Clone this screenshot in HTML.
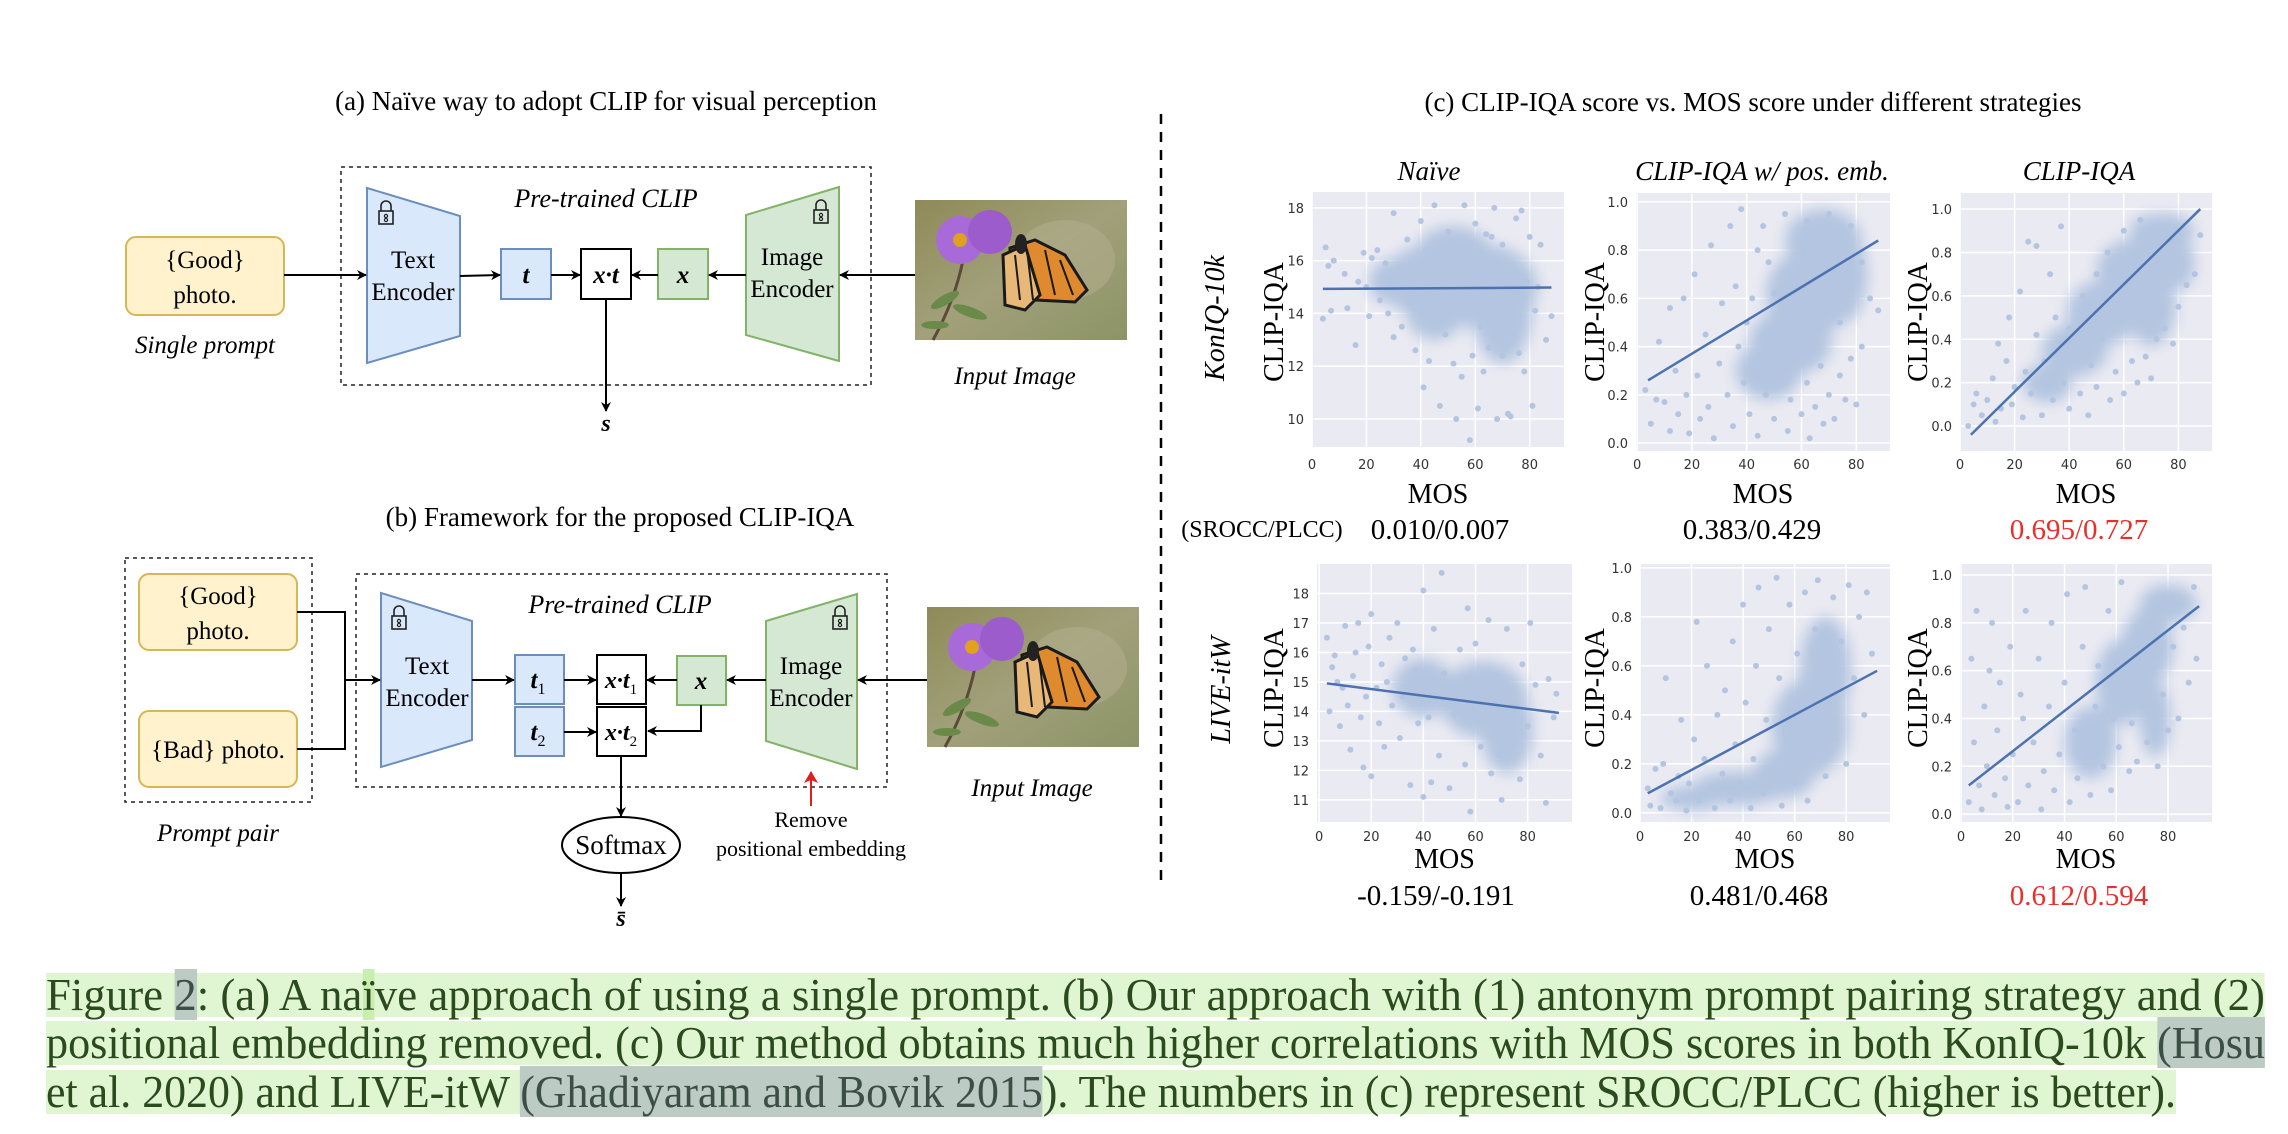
<!DOCTYPE html>
<html><head><meta charset="utf-8">
<style>
html,body{margin:0;padding:0;background:#fff;}
#root{position:relative;width:2288px;height:1134px;overflow:hidden;font-family:"Liberation Serif",serif;}
svg text{font-family:"Liberation Serif",serif;}
.cap{position:absolute;left:46px;height:44px;line-height:44px;background:#e0f6d2;color:#2b4a1e;font-size:46px;white-space:nowrap;font-family:"Liberation Serif",serif;transform-origin:0 0;}
.cite{background:#bccbc3;color:#3c4f44;}
.tk{font-family:"DejaVu Sans",sans-serif;font-size:13px;fill:#333;}
</style></head>
<body>
<div id="root">
<svg id="svg" width="2288" height="1134" viewBox="0 0 2288 1134" xmlns="http://www.w3.org/2000/svg">
<defs>
<marker id="ah" markerWidth="10" markerHeight="10" refX="9" refY="5" orient="auto" markerUnits="userSpaceOnUse"><path d="M0,0 L10,5 L0,10 L3,5 z" fill="#000"/></marker>
<marker id="ahr" markerWidth="12" markerHeight="14" refX="11" refY="7" orient="auto" markerUnits="userSpaceOnUse"><path d="M0,0 L12,7 L0,14 L3,7 z" fill="#e02020"/></marker>
<filter id="soft" x="-50%" y="-50%" width="200%" height="200%"><feGaussianBlur stdDeviation="7"/></filter>
<linearGradient id="bg1" x1="0" y1="0" x2="1" y2="1"><stop offset="0" stop-color="#8e8a58"/><stop offset="0.5" stop-color="#a2a07a"/><stop offset="1" stop-color="#8c9466"/></linearGradient>
<g id="butterfly">
<rect x="0" y="0" width="212" height="140" fill="url(#bg1)"/>
<ellipse cx="150" cy="60" rx="50" ry="40" fill="#b0ad8c" opacity="0.6"/>
<path d="M48,60 Q40,100 18,140" stroke="#5a4a3a" stroke-width="3" fill="none"/>
<ellipse cx="30" cy="100" rx="16" ry="5" fill="#6a8a4a" transform="rotate(-30 30 100)"/>
<ellipse cx="55" cy="112" rx="18" ry="5" fill="#6a8a4a" transform="rotate(20 55 112)"/>
<ellipse cx="20" cy="125" rx="14" ry="4" fill="#6a8a4a"/>
<circle cx="45" cy="40" r="24" fill="#a86ad8"/>
<circle cx="75" cy="32" r="22" fill="#9c5ccc"/>
<circle cx="45" cy="40" r="7" fill="#e0a020"/>
<path d="M95,48 L120,40 L150,55 L172,90 L160,102 L120,100 L95,100 Z" fill="#e08a30" stroke="#1a1a1a" stroke-width="3"/>
<path d="M88,55 L110,45 L125,95 L110,110 L90,105 Z" fill="#e8b878" stroke="#1a1a1a" stroke-width="3"/>
<path d="M100,55 L105,100 M112,50 L118,100 M130,50 L140,95 M145,60 L158,95" stroke="#1a1a1a" stroke-width="2"/>
<ellipse cx="106" cy="44" rx="6" ry="10" fill="#222"/>
</g>
<g id="lock"><path d="M-5,-2 v-5 a5,5 0 0 1 10,0 v5" stroke="#222" stroke-width="1.6" fill="none"/><rect x="-7" y="-2" width="14" height="13" fill="none" stroke="#222" stroke-width="1.6"/><circle cx="0" cy="3" r="1.6" fill="none" stroke="#222" stroke-width="1.2"/><circle cx="0" cy="7" r="1.6" fill="none" stroke="#222" stroke-width="1.2"/></g>
</defs>

<!-- ===== Panel (a) ===== -->
<g>
<text x="606" y="110" font-size="27" text-anchor="middle">(a) Naïve way to adopt CLIP for visual perception</text>
<rect x="341" y="167" width="530" height="218" fill="none" stroke="#222" stroke-width="1.5" stroke-dasharray="4,4"/>
<text x="606" y="207" font-size="26" font-style="italic" text-anchor="middle">Pre-trained CLIP</text>
<rect x="126" y="237" width="158" height="78" rx="10" fill="#fff2cc" stroke="#d6b656" stroke-width="2"/>
<text x="205" y="268" font-size="25" text-anchor="middle">{Good}</text>
<text x="205" y="303" font-size="25" text-anchor="middle">photo.</text>
<text x="205" y="353" font-size="25" font-style="italic" text-anchor="middle">Single prompt</text>
<polygon points="367,188 460,216 460,336 367,363" fill="#dae8fc" stroke="#6c8ebf" stroke-width="2"/>
<use href="#lock" x="386" y="213"/>
<text x="413" y="268" font-size="25" text-anchor="middle">Text</text>
<text x="413" y="300" font-size="25" text-anchor="middle">Encoder</text>
<rect x="501" y="249" width="50" height="50" fill="#dae8fc" stroke="#6c8ebf" stroke-width="2"/>
<text x="526" y="283" font-size="25" font-weight="bold" font-style="italic" text-anchor="middle">t</text>
<rect x="581" y="249" width="50" height="50" fill="#fff" stroke="#000" stroke-width="2"/>
<text x="606" y="283" font-size="25" font-weight="bold" font-style="italic" text-anchor="middle">x·t</text>
<rect x="658" y="249" width="50" height="50" fill="#d5e8d4" stroke="#82b366" stroke-width="2"/>
<text x="683" y="283" font-size="25" font-weight="bold" font-style="italic" text-anchor="middle">x</text>
<polygon points="746,215 839,187 839,361 746,335" fill="#d5e8d4" stroke="#82b366" stroke-width="2"/>
<use href="#lock" x="821" y="212"/>
<text x="792" y="265" font-size="25" text-anchor="middle">Image</text>
<text x="792" y="297" font-size="25" text-anchor="middle">Encoder</text>
<use href="#butterfly" x="915" y="200"/>
<text x="1015" y="384" font-size="25" font-style="italic" text-anchor="middle">Input Image</text>
<g stroke="#000" stroke-width="2" fill="none">
<line x1="284" y1="275" x2="366" y2="275" marker-end="url(#ah)"/>
<line x1="460" y1="276" x2="500" y2="275" marker-end="url(#ah)"/>
<line x1="551" y1="275" x2="580" y2="275" marker-end="url(#ah)"/>
<line x1="658" y1="275" x2="632" y2="275" marker-end="url(#ah)"/>
<line x1="746" y1="275" x2="709" y2="275" marker-end="url(#ah)"/>
<line x1="915" y1="275" x2="840" y2="275" marker-end="url(#ah)"/>
<line x1="606" y1="299" x2="606" y2="411" marker-end="url(#ah)"/>
</g>
<text x="606" y="431" font-size="24" font-weight="bold" font-style="italic" text-anchor="middle">s</text>
</g>

<!-- ===== Panel (b) ===== -->
<g>
<text x="620" y="526" font-size="27" text-anchor="middle">(b) Framework for the proposed CLIP-IQA</text>
<rect x="125" y="558" width="187" height="244" fill="none" stroke="#222" stroke-width="1.5" stroke-dasharray="4,4"/>
<rect x="139" y="574" width="158" height="76" rx="10" fill="#fff2cc" stroke="#d6b656" stroke-width="2"/>
<text x="218" y="604" font-size="25" text-anchor="middle">{Good}</text>
<text x="218" y="639" font-size="25" text-anchor="middle">photo.</text>
<rect x="139" y="711" width="158" height="76" rx="10" fill="#fff2cc" stroke="#d6b656" stroke-width="2"/>
<text x="218" y="758" font-size="25" text-anchor="middle">{Bad} photo.</text>
<text x="218" y="841" font-size="25" font-style="italic" text-anchor="middle">Prompt pair</text>
<rect x="356" y="574" width="531" height="213" fill="none" stroke="#222" stroke-width="1.5" stroke-dasharray="4,4"/>
<text x="620" y="613" font-size="26" font-style="italic" text-anchor="middle">Pre-trained CLIP</text>
<polygon points="381,593 472,621 472,740 381,767" fill="#dae8fc" stroke="#6c8ebf" stroke-width="2"/>
<use href="#lock" x="399" y="618"/>
<text x="427" y="674" font-size="25" text-anchor="middle">Text</text>
<text x="427" y="706" font-size="25" text-anchor="middle">Encoder</text>
<rect x="515" y="655" width="49" height="49" fill="#dae8fc" stroke="#6c8ebf" stroke-width="2"/>
<text x="538" y="688" font-size="25" font-weight="bold" font-style="italic" text-anchor="middle">t<tspan font-size="16" font-weight="normal" font-style="normal" dy="6">1</tspan></text>
<rect x="515" y="707" width="49" height="49" fill="#dae8fc" stroke="#6c8ebf" stroke-width="2"/>
<text x="538" y="740" font-size="25" font-weight="bold" font-style="italic" text-anchor="middle">t<tspan font-size="16" font-weight="normal" font-style="normal" dy="6">2</tspan></text>
<rect x="597" y="655" width="49" height="49" fill="#fff" stroke="#000" stroke-width="2"/>
<text x="621" y="688" font-size="24" font-weight="bold" font-style="italic" text-anchor="middle">x·t<tspan font-size="15" font-weight="normal" font-style="normal" dy="6">1</tspan></text>
<rect x="597" y="707" width="49" height="49" fill="#fff" stroke="#000" stroke-width="2"/>
<text x="621" y="740" font-size="24" font-weight="bold" font-style="italic" text-anchor="middle">x·t<tspan font-size="15" font-weight="normal" font-style="normal" dy="6">2</tspan></text>
<rect x="677" y="656" width="49" height="49" fill="#d5e8d4" stroke="#82b366" stroke-width="2"/>
<text x="701" y="689" font-size="25" font-weight="bold" font-style="italic" text-anchor="middle">x</text>
<polygon points="766,621 857,594 857,769 766,741" fill="#d5e8d4" stroke="#82b366" stroke-width="2"/>
<use href="#lock" x="840" y="618"/>
<text x="811" y="674" font-size="25" text-anchor="middle">Image</text>
<text x="811" y="706" font-size="25" text-anchor="middle">Encoder</text>
<use href="#butterfly" x="927" y="607"/>
<text x="1032" y="796" font-size="25" font-style="italic" text-anchor="middle">Input Image</text>
<g stroke="#000" stroke-width="2" fill="none">
<polyline points="297,612 345,612 345,749 297,749"/>
<line x1="345" y1="680" x2="380" y2="680" marker-end="url(#ah)"/>
<line x1="472" y1="680" x2="514" y2="680" marker-end="url(#ah)"/>
<line x1="564" y1="680" x2="596" y2="680" marker-end="url(#ah)"/>
<line x1="564" y1="732" x2="596" y2="732" marker-end="url(#ah)"/>
<line x1="677" y1="680" x2="647" y2="680" marker-end="url(#ah)"/>
<polyline points="701,705 701,731 648,731" marker-end="url(#ah)"/>
<line x1="766" y1="680" x2="727" y2="680" marker-end="url(#ah)"/>
<line x1="927" y1="680" x2="858" y2="680" marker-end="url(#ah)"/>
<line x1="621" y1="756" x2="621" y2="816" marker-end="url(#ah)"/>
<line x1="621" y1="873" x2="621" y2="906" marker-end="url(#ah)"/>
</g>
<ellipse cx="621" cy="845" rx="59" ry="28" fill="#fff" stroke="#000" stroke-width="2"/>
<text x="621" y="854" font-size="27" text-anchor="middle">Softmax</text>
<text x="621" y="926" font-size="24" font-weight="bold" font-style="italic" text-anchor="middle">s̄</text>
<line x1="811" y1="806" x2="811" y2="772" stroke="#e02020" stroke-width="2" marker-end="url(#ahr)"/>
<text x="811" y="827" font-size="22" text-anchor="middle">Remove</text>
<text x="811" y="856" font-size="22" text-anchor="middle">positional embedding</text>
</g>

<line x1="1161" y1="114" x2="1161" y2="886" stroke="#000" stroke-width="2.5" stroke-dasharray="10,8"/>

<!-- ===== Panel (c) ===== -->
<g id="panelc">
<text x="1753" y="111" font-size="27" text-anchor="middle">(c) CLIP-IQA score vs. MOS score under different strategies</text>
<text x="1429" y="180" font-size="27" font-style="italic" text-anchor="middle">Naïve</text>
<text x="1762" y="180" font-size="27" font-style="italic" text-anchor="middle">CLIP-IQA w/ pos. emb.</text>
<text x="2079" y="180" font-size="27" font-style="italic" text-anchor="middle">CLIP-IQA</text>
<text transform="translate(1224,318) rotate(-90)" font-size="28" font-style="italic" text-anchor="middle">KonIQ-10k</text>
<text transform="translate(1230,690) rotate(-90)" font-size="28" font-style="italic" text-anchor="middle">LIVE-itW</text>
<text x="1262" y="537" font-size="24" text-anchor="middle">(SROCC/PLCC)</text>
<text x="1440" y="539" font-size="29" text-anchor="middle">0.010/0.007</text>
<text x="1752" y="539" font-size="29" text-anchor="middle">0.383/0.429</text>
<text x="2079" y="539" font-size="29" text-anchor="middle" fill="#e8302a">0.695/0.727</text>
<text x="1436" y="905" font-size="29" text-anchor="middle">-0.159/-0.191</text>
<text x="1759" y="905" font-size="29" text-anchor="middle">0.481/0.468</text>
<text x="2079" y="905" font-size="29" text-anchor="middle" fill="#e8302a">0.612/0.594</text>
</g>
</svg>

<div class="cap" id="cap1" style="top:973px;">Figure <span class="cite">2</span>: (a) A na<span style="background:#c8eeb0">ï</span>ve approach of using a single prompt. (b) Our approach with (1) antonym prompt pairing strategy and (2)</div>
<div class="cap" id="cap2" style="top:1021px;">positional embedding removed. (c) Our method obtains much higher correlations with MOS scores in both KonIQ-10k <span class="cite">(Hosu</span></div>
<div class="cap" id="cap3" style="top:1070px;">et al. 2020) and LIVE-itW <span class="cite">(Ghadiyaram and Bovik 2015</span>). The numbers in (c) represent SROCC/PLCC (higher is better).</div>
</div>

<script>
// ---- chart data (MOS, CLIP-IQA score) ----
const xTicks = [0, 20, 40, 60, 80];
const yTicksNaiveKon = [10, 12, 14, 16, 18];
const yTicksNaiveLive = [11, 12, 13, 14, 15, 16, 17, 18];
const yTicksUnit = [0.0, 0.2, 0.4, 0.6, 0.8, 1.0];

const ptsKonNaive = [[4,13.8],[5,16.5],[6,15.8],[7,14.1],[8,16],[12,15.5],[13,14.2],[16,12.8],[17,15.2],[19,16.3],[21,13.9],[22,16.1],[25,14.5],[27,15.9],[30,17.8],[30,13.1],[33,13.5],[35,16.8],[38,12.6],[40,17.5],[41,11.2],[43,12.2],[45,18.1],[47,10.5],[49,13.2],[50,17.1],[52,12.1],[53,10],[55,11.6],[56,18.1],[57,14.2],[58,9.2],[59,12.4],[60,17.4],[61,10.4],[62,13.5],[63,11.8],[65,12.7],[66,16.9],[67,18.0],[68,10.0],[70,12.4],[72,10.2],[73,10.1],[75,17.6],[76,12.5],[77,17.9],[78,11.8],[80,16.9],[81,10.5],[82,14.1],[84,16.6],[86,13.0],[88,13.9],[20,15.0],[24,16.4],[28,14.0],[32,15.6],[36,14.4],[42,16.4],[46,15.5],[50,14.0],[54,16.6],[58,15.8],[64,17.0],[70,16.6],[74,13.2],[79,15.2],[83,15.0]];
const blobKonNaive = [[63,15.0,20,1.6],[70,14.3,11,2.2],[40,15.2,14,1.3],[52,16.3,14,1.0],[45,13.9,10,0.9],[28,15.2,7,0.8]];
const fitKonNaive = [[4,14.93],[88,14.98]];

const ptsKonPos = [[3,0.22],[5,0.08],[7,0.18],[8,0.42],[10,0.17],[12,0.05],[12,0.56],[14,0.3],[15,0.12],[17,0.6],[18,0.2],[19,0.04],[21,0.7],[22,0.28],[23,0.1],[25,0.45],[26,0.15],[27,0.82],[28,0.02],[30,0.33],[31,0.58],[33,0.2],[34,0.9],[35,0.07],[37,0.4],[38,0.97],[39,0.25],[41,0.12],[42,0.6],[44,0.03],[45,0.35],[47,0.2],[48,0.75],[50,0.1],[52,0.45],[53,0.28],[55,0.05],[56,0.18],[58,0.38],[60,0.12],[62,0.25],[63,0.02],[65,0.15],[67,0.32],[68,0.08],[70,0.2],[72,0.1],[74,0.28],[76,0.18],[78,0.35],[80,0.16],[82,0.4],[85,0.6],[88,0.55],[36,0.65],[40,0.5],[44,0.8],[46,0.9],[50,0.62],[54,0.95],[58,0.7],[62,0.92],[66,0.55],[70,0.95],[74,0.5],[78,0.9],[82,0.75]];
const blobKonPos = [[68,0.84,14,0.13],[63,0.62,16,0.18],[56,0.42,15,0.14],[75,0.7,9,0.2],[48,0.3,12,0.12]];
const fitKonPos = [[4,0.26],[88,0.84]];

const ptsKonClip = [[3,0.0],[5,0.1],[6,0.15],[8,0.05],[10,0.12],[12,0.22],[13,0.02],[14,0.38],[15,0.08],[17,0.3],[18,0.5],[19,0.1],[20,0.18],[22,0.62],[23,0.04],[24,0.25],[25,0.85],[26,0.15],[28,0.42],[28,0.83],[30,0.05],[31,0.3],[33,0.7],[34,0.12],[35,0.5],[37,0.92],[38,0.2],[40,0.08],[42,0.35],[44,0.15],[45,0.6],[47,0.05],[48,0.28],[50,0.18],[52,0.4],[55,0.12],[57,0.25],[60,0.15],[63,0.3],[65,0.2],[68,0.32],[70,0.22],[72,0.4],[75,0.45],[78,0.38],[80,0.55],[83,0.65],[86,0.7],[88,0.88],[40,0.45],[46,0.55],[50,0.7],[54,0.8],[58,0.6],[60,0.9],[66,0.95],[70,0.75],[76,0.65],[80,0.85]];
const blobKonClip = [[74,0.9,12,0.08],[64,0.72,14,0.14],[52,0.52,13,0.15],[42,0.35,12,0.12],[32,0.2,9,0.09],[70,0.55,9,0.18],[80,0.75,6,0.12]];
const fitKonClip = [[4,-0.04],[88,1.0]];

const ptsLiveNaive = [[3,16.5],[4,14],[5,15.5],[6,15.9],[8,13.5],[9,14.8],[10,16.9],[12,12.7],[13,15.2],[15,17],[16,13.8],[17,12.1],[18,14.5],[19,16.2],[20,11.8],[20,17.3],[22,14.8],[24,15.6],[25,12.8],[27,16.5],[28,14.2],[30,17],[31,13.1],[33,15.8],[35,11.5],[36,16.1],[38,13.6],[40,11.1],[40,18.1],[41,14.9],[43,11.6],[44,16.8],[46,12.5],[47,18.7],[48,15.3],[50,11.4],[52,13.9],[54,16.1],[56,12.2],[57,17.5],[58,10.6],[59,14.6],[60,16.3],[62,12.8],[63,13.7],[65,17.1],[66,11.9],[68,15.2],[69,12.5],[70,11.0],[72,16.8],[73,13.2],[75,14.2],[77,11.7],[78,15.6],[80,13.5],[81,17],[83,14.9],[85,12.5],[87,10.9],[88,15.1],[90,13.8],[91,14.6],[7,15.0],[11,14.2],[14,16.0],[23,13.6],[26,15.0],[32,14.5],[37,15.4],[42,13.8],[45,14.6]];
const blobLiveNaive = [[63,14.4,17,1.3],[72,13.4,10,1.5],[40,14.8,12,1.0]];
const fitLiveNaive = [[3,14.95],[92,13.95]];

const ptsLivePos = [[3,0.1],[4,0.03],[6,0.18],[8,0.02],[9,0.2],[10,0.55],[12,0.08],[14,0.05],[15,0.15],[16,0.38],[18,0.01],[19,0.12],[21,0.3],[22,0.78],[23,0.05],[25,0.22],[26,0.6],[28,0.1],[29,0.02],[30,0.4],[32,0.16],[33,0.5],[35,0.05],[36,0.7],[37,0.28],[39,0.12],[40,0.85],[41,0.45],[43,0.02],[44,0.22],[45,0.6],[46,0.92],[48,0.08],[49,0.38],[50,0.75],[52,0.18],[53,0.96],[54,0.55],[55,0.03],[57,0.3],[58,0.85],[60,0.12],[61,0.65],[62,0.45],[64,0.9],[65,0.05],[66,0.25],[68,0.75],[69,0.95],[70,0.4],[72,0.15],[73,0.6],[75,0.88],[76,0.3],[78,0.7],[80,0.2],[81,0.93],[83,0.55],[85,0.8],[87,0.4],[88,0.9],[90,0.65]];
const blobLivePos = [[66,0.35,15,0.2],[72,0.58,10,0.22],[38,0.1,18,0.07],[56,0.16,12,0.1],[20,0.06,12,0.05]];
const fitLivePos = [[3,0.08],[92,0.58]];

const ptsLiveClip = [[3,0.05],[4,0.65],[5,0.3],[6,0.85],[7,0.12],[8,0.02],[9,0.45],[10,0.2],[11,0.6],[12,0.8],[13,0.08],[14,0.35],[15,0.55],[17,0.15],[18,0.03],[19,0.7],[20,0.25],[22,0.05],[23,0.5],[24,0.4],[25,0.85],[26,0.12],[28,0.3],[30,0.65],[31,0.02],[32,0.18],[34,0.45],[35,0.8],[36,0.1],[38,0.25],[40,0.55],[41,0.92],[42,0.05],[44,0.35],[45,0.15],[47,0.7],[48,0.95],[49,0.28],[50,0.08],[52,0.45],[53,0.62],[55,0.2],[57,0.85],[58,0.1],[59,0.4],[61,0.28],[62,0.97],[63,0.55],[65,0.18],[66,0.38],[68,0.22],[70,0.45],[72,0.3],[74,0.6],[76,0.2],[78,0.5],[80,0.35],[82,0.7],[84,0.4],[86,0.78],[88,0.55],[90,0.95],[91,0.65]];
const blobLiveClip = [[80,0.88,11,0.08],[72,0.7,10,0.16],[62,0.55,10,0.18],[75,0.4,6,0.16],[50,0.3,10,0.15]];
const fitLiveClip = [[3,0.12],[92,0.87]];

const NS = 'http://www.w3.org/2000/svg';
const svg = document.getElementById('panelc');
function mk(tag, attrs){const e=document.createElementNS(NS,tag);for(const k in attrs)e.setAttribute(k,attrs[k]);return e;}

function drawPlot(name, box, dom, yTicks, pts, blobs, fit, ylabelX, ylabelY, tickY, mosY){
  const g = mk('g',{});
  
  
  svg.appendChild(g);
  const sx = v => box.x0 + (v - dom.x0) / (dom.x1 - dom.x0) * (box.x1 - box.x0);
  const sy = v => box.y1 - (v - dom.y0) / (dom.y1 - dom.y0) * (box.y1 - box.y0);
  const bg = mk('rect',{x:box.x0,y:box.y0,width:box.x1-box.x0,height:box.y1-box.y0,fill:'#eaeaf2'});
  
  
  g.appendChild(bg);
  xTicks.forEach(t=>{
    g.appendChild(mk('line',{x1:sx(t),x2:sx(t),y1:box.y0,y2:box.y1,stroke:'#fff','stroke-width':1.5}));
    const tx = mk('text',{x:sx(t),y:tickY,'text-anchor':'middle',class:'tk'}); tx.textContent=t;
    
    
    g.appendChild(tx);
  });
  yTicks.forEach(t=>{
    g.appendChild(mk('line',{x1:box.x0,x2:box.x1,y1:sy(t),y2:sy(t),stroke:'#fff','stroke-width':1.5}));
    const tx = mk('text',{x:box.x0-8,y:sy(t)+5,'text-anchor':'end',class:'tk'});
    tx.textContent = (yTicks[yTicks.length-1] <= 1) ? t.toFixed(1) : t;
    
    
    g.appendChild(tx);
  });
  const kx = (box.x1-box.x0)/(dom.x1-dom.x0), ky=(box.y1-box.y0)/(dom.y1-dom.y0);
  const cg = mk('g',{filter:'url(#soft)'});
  
  
  g.appendChild(cg);
  blobs.forEach(b=>{
    const e = mk('ellipse',{cx:sx(b[0]),cy:sy(b[1]),rx:b[2]*kx,ry:b[3]*ky,fill:'#b3c5e0'});
    
    
    cg.appendChild(e);
  });
  pts.forEach(p=>{
    const c = mk('circle',{cx:sx(p[0]),cy:sy(p[1]),r:3,fill:'#b3c5e0'});
    
    
    g.appendChild(c);
  });
  const ln = mk('line',{x1:sx(fit[0][0]),y1:sy(fit[0][1]),x2:sx(fit[1][0]),y2:sy(fit[1][1]),stroke:'#4c72b0','stroke-width':2.5});
  
  
  g.appendChild(ln);
  const yl = mk('text',{transform:`translate(${ylabelX},${ylabelY}) rotate(-90)`,'font-size':28,'text-anchor':'middle'});
  yl.textContent='CLIP-IQA';
  
  
  g.appendChild(yl);
  const xl = mk('text',{x:(box.x0+box.x1)/2,y:mosY,'font-size':28,'text-anchor':'middle'});
  xl.textContent='MOS';
  
  
  g.appendChild(xl);
}

drawPlot('plot-koniq-naive',{x0:1312,x1:1564,y0:192,y1:447},{x0:0,x1:92.6,y0:8.94,y1:18.6},yTicksNaiveKon,ptsKonNaive,blobKonNaive,fitKonNaive,1283,322,469,503);
drawPlot('plot-koniq-pos',{x0:1636,x1:1890,y0:193,y1:451},{x0:-0.4,x1:92.3,y0:-0.033,y1:1.037},yTicksUnit,ptsKonPos,blobKonPos,fitKonPos,1604,322,469,503);
drawPlot('plot-koniq-clipiqa',{x0:1960,x1:2212,y0:193,y1:451},{x0:0,x1:92.3,y0:-0.115,y1:1.074},yTicksUnit,ptsKonClip,blobKonClip,fitKonClip,1927,322,469,503);
drawPlot('plot-live-naive',{x0:1317,x1:1572,y0:564,y1:822},{x0:-0.8,x1:97,y0:10.25,y1:19.0},yTicksNaiveLive,ptsLiveNaive,blobLiveNaive,fitLiveNaive,1283,688,841,868);
drawPlot('plot-live-pos',{x0:1640,x1:1890,y0:564,y1:822},{x0:0,x1:97,y0:-0.037,y1:1.016},yTicksUnit,ptsLivePos,blobLivePos,fitLivePos,1604,688,841,868);
drawPlot('plot-live-clipiqa',{x0:1960,x1:2212,y0:564,y1:822},{x0:-0.4,x1:97,y0:-0.033,y1:1.046},yTicksUnit,ptsLiveClip,blobLiveClip,fitLiveClip,1927,688,841,868);

// caption fitting: horizontally scale to target width
function fitCap(id, target){
  const el=document.getElementById(id);
  el.style.display='inline-block';
  const w=el.getBoundingClientRect().width;
  el.style.transform='scaleX('+(target/w)+')';
}
fitCap('cap1',2219);
fitCap('cap2',2219);
fitCap('cap3',2130);
</script>
</body></html>
